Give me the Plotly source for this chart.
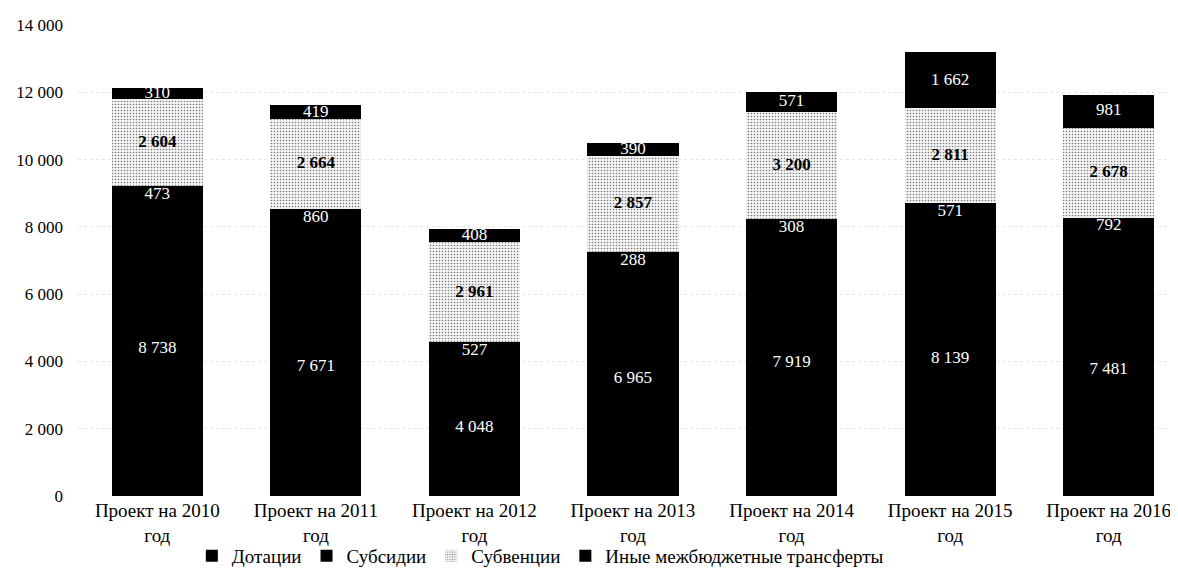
import plotly.graph_objects as go

categories = ["Проект на 2010<br>год", "Проект на 2011<br>год", "Проект на 2012<br>год",
              "Проект на 2013<br>год", "Проект на 2014<br>год", "Проект на 2015<br>год",
              "Проект на 2016<br>год"]
dotacii = [8738, 7671, 4048, 6965, 7919, 8139, 7481]
subsidii = [473, 860, 527, 288, 308, 571, 792]
subvencii = [2604, 2664, 2961, 2857, 3200, 2811, 2678]
inye = [310, 419, 408, 390, 571, 1662, 981]
names = ["Дотации", "Субсидии", "Субвенции", "Иные межбюджетные трансферты"]
y_ticks = [0, 2000, 4000, 6000, 8000, 10000, 12000, 14000]

FONT = "Liberation Serif"

def fmt(v):
    return f"{v:,}".replace(",", " ")

fig = go.Figure()
fig.add_trace(go.Bar(x=categories, y=dotacii, name=names[0], marker_color="black",
                     marker_line_width=0))
fig.add_trace(go.Bar(x=categories, y=subsidii, name=names[1], marker_color="black",
                     marker_line_width=0))
fig.add_trace(go.Bar(x=categories, y=subvencii, name=names[2],
                     marker=dict(color="#eeeeee", line_width=0,
                                 pattern=dict(shape=".", fgcolor="#7a7a7a", bgcolor="#f3f3f3",
                                              size=3, solidity=0.22, fillmode="replace"))))
fig.add_trace(go.Bar(x=categories, y=inye, name=names[3], marker_color="black",
                     marker_line_width=0))

c2 = [a + b for a, b in zip(dotacii, subsidii)]
c3 = [a + b for a, b in zip(c2, subvencii)]

fig.add_trace(go.Scatter(x=categories, y=[v / 2 for v in dotacii], mode="text",
                         text=[fmt(v) for v in dotacii], textposition="middle center",
                         textfont=dict(color="white", size=17, family=FONT),
                         showlegend=False, hoverinfo="skip"))
fig.add_trace(go.Scatter(x=categories, y=c2, mode="text",
                         text=[fmt(v) for v in subsidii], textposition="bottom center",
                         textfont=dict(color="white", size=17, family=FONT),
                         showlegend=False, hoverinfo="skip"))
fig.add_trace(go.Scatter(x=categories, y=[a + b / 2 for a, b in zip(c2, subvencii)], mode="text",
                         text=["<b>" + fmt(v) + "</b>" for v in subvencii], textposition="middle center",
                         textfont=dict(color="black", size=17, family=FONT),
                         showlegend=False, hoverinfo="skip"))
fig.add_trace(go.Scatter(x=categories, y=[a + b / 2 for a, b in zip(c3, inye)], mode="text",
                         text=[fmt(v) for v in inye], textposition="middle center",
                         textfont=dict(color="white", size=17, family=FONT),
                         showlegend=False, hoverinfo="skip"))

fig.update_layout(
    width=1178, height=577,
    barmode="stack", bargap=0.425,
    plot_bgcolor="white", paper_bgcolor="white",
    margin=dict(l=69, r=8, t=15, b=89),
    separators=", ",
    font=dict(family=FONT, size=17, color="black"),
    xaxis=dict(showline=False, ticks="", range=[-0.5, 6.437],
               tickfont=dict(size=19, family=FONT), ticklabelstandoff=1),
    yaxis=dict(range=[0, 14000], tickvals=y_ticks, tickformat=",d",
               showgrid=True, gridcolor="#e6e6e6", griddash="dot", zeroline=False,
               ticks="", tickfont=dict(size=17, family=FONT), ticklabelstandoff=14),
    legend=dict(orientation="h", x=0.1035, xanchor="left", y=-0.127, yanchor="middle",
                bgcolor="rgba(0,0,0,0)",
                font=dict(size=19, family=FONT), itemwidth=30, traceorder="normal"),
)

fig.write_html("out.html")
